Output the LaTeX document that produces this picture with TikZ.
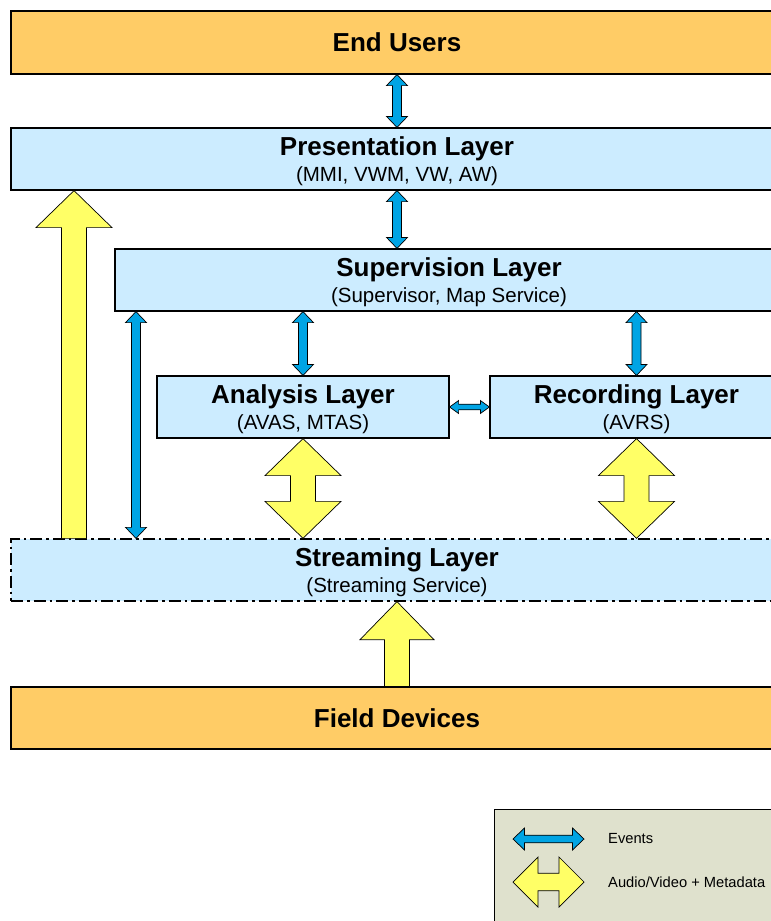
\documentclass[tikz,border=0pt]{standalone}
\usepackage{fontspec}
\setmainfont{Liberation Sans}
\usetikzlibrary{calc}

\definecolor{userorange}{HTML}{FFCC66}
\definecolor{layerblue}{HTML}{CCECFF}
\definecolor{flowyellow}{HTML}{FFFF66}
\definecolor{eventblue}{HTML}{00A4E4}
\definecolor{legendbg}{HTML}{DFE1CD}

% vertical double-headed arrow: style, upper end, lower end, shaft half width, head half width, head length
\newcommand\vdarrow[6]{%
  \path[#1] (#2) -- ($(#2)+(#5,#6)$) -- ($(#2)+(#4,#6)$) -- ($(#3)+(#4,-#6)$)
    -- ($(#3)+(#5,-#6)$) -- (#3) -- ($(#3)+(-#5,-#6)$) -- ($(#3)+(-#4,-#6)$)
    -- ($(#2)+(-#4,#6)$) -- ($(#2)+(-#5,#6)$) -- cycle;}
% horizontal double-headed arrow: style, left end, right end, shaft half height, head half height, head length
\newcommand\hdarrow[6]{%
  \path[#1] (#2) -- ($(#2)+(#6,-#5)$) -- ($(#2)+(#6,-#4)$) -- ($(#3)+(-#6,-#4)$)
    -- ($(#3)+(-#6,-#5)$) -- (#3) -- ($(#3)+(-#6,#5)$) -- ($(#3)+(-#6,#4)$)
    -- ($(#2)+(#6,#4)$) -- ($(#2)+(#6,#5)$) -- cycle;}
% single arrow pointing up: style, tip, foot, shaft half width, head half width, head length
\newcommand\singleuparrow[6]{%
  \path[#1] (#2) -- ($(#2)+(#5,#6)$) -- ($(#2)+(#4,#6)$) -- ($(#3)+(#4,0)$)
    -- ($(#3)+(-#4,0)$) -- ($(#2)+(-#4,#6)$) -- ($(#2)+(-#5,#6)$) -- cycle;}

\tikzset{
  box/.style={rectangle, draw=black, line width=1.2pt, inner sep=0pt},
  enduser/.style={box, fill=userorange},
  layer/.style={box, fill=layerblue},
  streambox/.style={rectangle, draw=black, line width=1.3pt, inner sep=0pt, fill=layerblue,
    dash pattern=on 12pt off 4pt on 2.5pt off 4pt},
  ttl/.style={anchor=base, inner sep=0pt, font=\fontsize{26}{30}\selectfont\bfseries},
  sub/.style={anchor=base, inner sep=0pt, font=\fontsize{20.5}{24}\selectfont},
  legtext/.style={anchor=base west, inner sep=0pt, font=\fontsize{14.7}{17}\selectfont},
  evarrow/.style={fill=eventblue, draw=black, line width=0.7pt, line join=miter},
  avarrow/.style={fill=flowyellow, draw=black, line width=0.7pt, line join=miter},
}

\begin{document}
\begin{tikzpicture}[x=1pt, y=-1pt]
\useasboundingbox (0,0) rectangle (771,921);

% layers
\node[enduser, minimum width=772pt, minimum height=63pt] (eu) at (397,42.5) {};
\node[layer, minimum width=772pt, minimum height=62pt] (pres) at (397,159) {};
\node[layer, minimum width=668pt, minimum height=62pt] (sup) at (449,280) {};
\node[layer, minimum width=292pt, minimum height=62pt] (ana) at (303,407) {};
\node[layer, minimum width=293pt, minimum height=62pt] (rec) at (636.5,407) {};
\node[streambox, minimum width=772pt, minimum height=62pt] (str) at (397,570) {};
\node[enduser, minimum width=772pt, minimum height=62pt] (fd) at (397,718) {};

% labels
\node[ttl] (eu-t) at ($(eu.center)+(0,9)$) {End Users};
\node[ttl] (pres-t) at ($(pres.center)+(0,-3.5)$) {Presentation Layer};
\node[sub] (pres-s) at ($(pres.center)+(0,22)$) {(MMI, VWM, VW, AW)};
\node[ttl] (sup-t) at ($(sup.center)+(0,-3.5)$) {Supervision Layer};
\node[sub] (sup-s) at ($(sup.center)+(0,22)$) {(Supervisor, Map Service)};
\node[ttl] (ana-t) at ($(ana.center)+(0,-3.5)$) {Analysis Layer};
\node[sub] (ana-s) at ($(ana.center)+(0,22)$) {(AVAS, MTAS)};
\node[ttl] (rec-t) at ($(rec.center)+(0,-3.5)$) {Recording Layer};
\node[sub] (rec-s) at ($(rec.center)+(0,22)$) {(AVRS)};
\node[ttl] (str-t) at ($(str.center)+(0,-3.5)$) {Streaming Layer};
\node[sub] (str-s) at ($(str.center)+(0,22)$) {(Streaming Service)};
\node[ttl] (fd-t) at ($(fd.center)+(0,9)$) {Field Devices};

% connector end points
\coordinate (p1) at (pres.south);
\coordinate (s1) at (p1 |- sup.north);
\coordinate (ya) at (74,0);
\coordinate (ya-top) at (ya |- pres.south);
\coordinate (ya-bot) at (ya |- str.north);
\coordinate (ba) at (136,0);
\coordinate (ba-top) at (ba |- sup.south);
\coordinate (ba-bot) at (ba |- str.north);
\coordinate (sa) at (ana.north |- sup.south);
\coordinate (sr) at (rec.north |- sup.south);
\coordinate (as) at (ana.south |- str.north);
\coordinate (rs) at (rec.south |- str.north);

% event flows
\vdarrow{evarrow}{eu.south}{pres.north}{4.5}{10.5}{11}
\vdarrow{evarrow}{p1}{s1}{4.5}{10.5}{11}
\vdarrow{evarrow}{ba-top}{ba-bot}{4.5}{10.5}{11}
\vdarrow{evarrow}{sa}{ana.north}{4.5}{10.5}{11}
\vdarrow{evarrow}{sr}{rec.north}{4.5}{10.5}{11}
\hdarrow{evarrow}{ana.east}{rec.west}{2.8}{6.5}{9}

% audio/video + metadata flows
\singleuparrow{avarrow}{ya-top}{ya-bot}{12.5}{38}{37}
\vdarrow{avarrow}{ana.south}{as}{12.5}{38}{37}
\vdarrow{avarrow}{rec.south}{rs}{12.5}{38}{37}
\singleuparrow{avarrow}{str.south}{fd.north}{12.5}{37}{38}

% legend
\node[rectangle, draw=black, line width=0.9pt, fill=legendbg, inner sep=0pt,
  minimum width=289pt, minimum height=126pt] (leg) at (638.5,872) {};
\coordinate (le1) at (513,839);
\coordinate (le2) at (584,839);
\coordinate (la1) at (513,882);
\coordinate (la2) at (584,882);
\hdarrow{evarrow}{le1}{le2}{3.8}{11}{11.5}
\hdarrow{avarrow}{la1}{la2}{8.7}{25}{25}
\node[legtext] (leg-e) at (608,843.5) {Events};
\node[legtext] (leg-a) at (608,887) {Audio/Video + Metadata};
\end{tikzpicture}
\end{document}
